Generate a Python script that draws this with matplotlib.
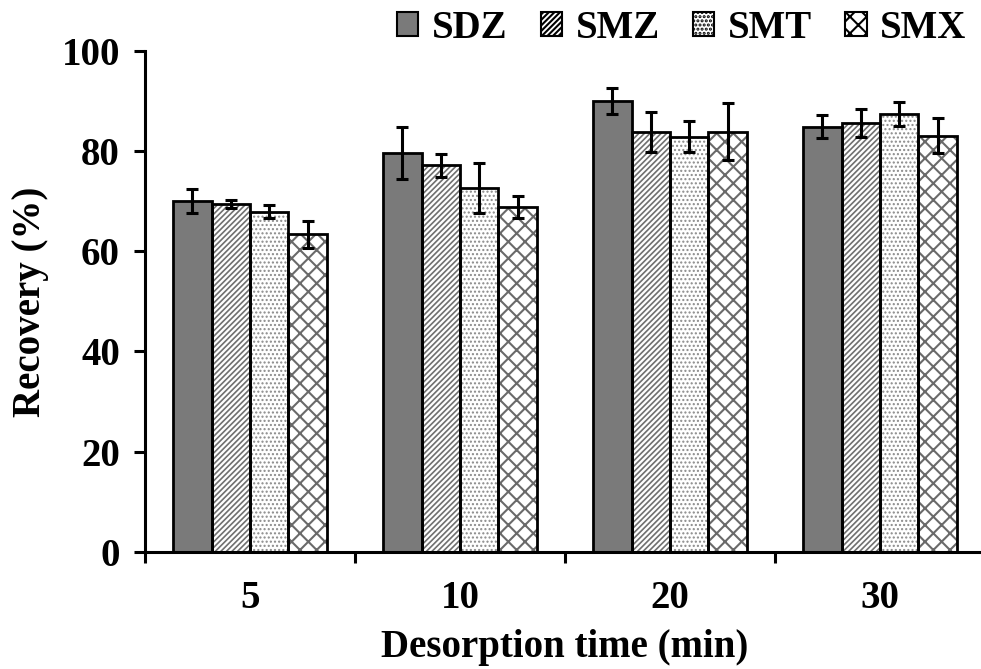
import matplotlib
matplotlib.use("Agg")
import matplotlib.pyplot as plt
import numpy as np
from matplotlib.patches import Patch

categories = ["5", "10", "20", "30"]
series = ["SDZ", "SMZ", "SMT", "SMX"]
SDZ = [70.1, 79.6, 90.0, 84.9]
SDZ_err = [2.4, 5.2, 2.65, 2.3]
SMZ = [69.4, 77.2, 83.8, 85.6]
SMZ_err = [0.8, 2.3, 4.0, 2.75]
SMT = [67.9, 72.6, 82.9, 87.4]
SMT_err = [1.25, 5.0, 3.0, 2.35]
SMX = [63.4, 68.8, 83.9, 83.1]
SMX_err = [2.65, 2.2, 5.7, 3.5]

values = [SDZ, SMZ, SMT, SMX]
errors = [SDZ_err, SMZ_err, SMT_err, SMX_err]

plt.rcParams['font.family'] = ['Liberation Serif', 'DejaVu Serif']
plt.rcParams['font.weight'] = 'bold'

styles = [
    dict(facecolor='#7a7a7a', hatch=None, hcolor='#7a7a7a', hlw=1.0),
    dict(facecolor='white', hatch='/' * 6, hcolor='#707070', hlw=1.2),
    dict(facecolor='white', hatch='.' * 4, hcolor='#8a8a8a', hlw=1.0),
    dict(facecolor='white', hatch='x' * 2, hcolor='#6a6a6a', hlw=1.5),
]

fig = plt.figure(figsize=(9.81, 6.69), dpi=100)
ax = fig.add_axes([0.1478, 0.175, 0.8563, 0.749])

x = np.arange(len(categories)) + 0.5
w = 0.183
offsets = (np.arange(4) - 1.5) * w

for i in range(4):
    st = styles[i]
    plt.rcParams['hatch.linewidth'] = st['hlw']
    ax.bar(x + offsets[i], values[i], w, facecolor=st['facecolor'],
           edgecolor=st['hcolor'], hatch=st['hatch'], linewidth=0, zorder=2)
    ax.bar(x + offsets[i], values[i], w, facecolor='none',
           edgecolor='black', linewidth=2.0, zorder=3)
    ax.errorbar(x + offsets[i], values[i], yerr=errors[i], fmt='none',
                ecolor='black', elinewidth=2.2, capsize=4, capthick=2.2, zorder=4)

ax.set_xlim(0, 4)
ax.set_ylim(0, 100)
ax.set_yticks([0, 20, 40, 60, 80, 100])
ax.set_xticks(x)
ax.set_xticklabels(categories)
ax.set_xticks(np.arange(0, 5), minor=True)
ax.tick_params(axis='x', which='major', length=0, pad=20, labelsize=28)
ax.tick_params(axis='x', which='minor', length=8, width=2.2, direction='out')
ax.tick_params(axis='y', which='major', length=8, width=2.2, pad=10, labelsize=28)
for lab in ax.get_xticklabels() + ax.get_yticklabels():
    lab.set_fontweight('bold')

for s in ['top', 'right']:
    ax.spines[s].set_visible(False)
for s in ['left', 'bottom']:
    ax.spines[s].set_linewidth(2.2)

ax.set_xlabel("Desorption time (min)", fontsize=28, fontweight='bold', labelpad=9)
ax.set_ylabel("Recovery (%)", fontsize=28, fontweight='bold', labelpad=9)

handles = []
for i in range(4):
    st = styles[i]
    plt.rcParams['hatch.linewidth'] = st['hlw']
    handles.append(Patch(facecolor=st['facecolor'], edgecolor='black',
                         hatch=st['hatch'], linewidth=1.5, label=series[i]))
leg = fig.legend(handles=handles, loc='center', bbox_to_anchor=(0.695, 0.958),
                 ncol=4, frameon=False, handlelength=0.55,
                 handleheight=0.55, handletextpad=0.35, columnspacing=0.85,
                 borderpad=0, prop={'weight': 'bold', 'size': 28})

fig.savefig("out.png", dpi=100)
